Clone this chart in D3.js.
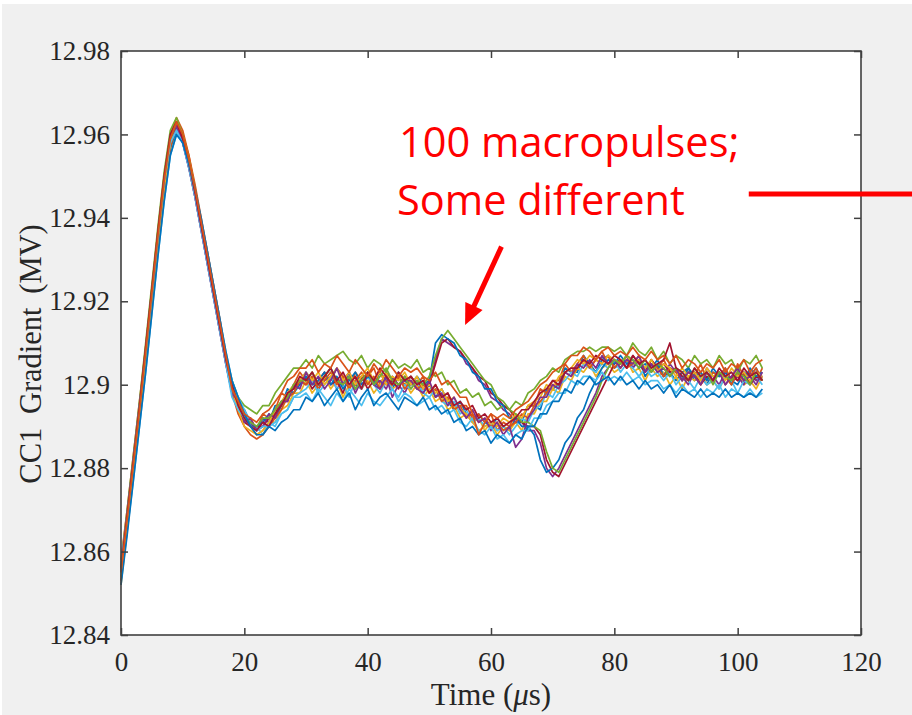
<!DOCTYPE html>
<html>
<head>
<meta charset="utf-8">
<script src="https://cdn.jsdelivr.net/npm/d3@7"></script>
<style>
  html, body { margin: 0; padding: 0; background: #f0f0f0; }
  svg { display: block; }
</style>
</head>
<body>
<svg id="chart" width="912" height="715"></svg>
<script>
// sample times (us), one reading per microsecond
const time = [0,1,2,3,4,5,6,7,8,9,10,11,12,13,14,15,16,17,18,19,20,21,22,23,24,25,26,27,28,29,30,31,32,33,34,35,36,37,38,39,40,41,42,43,44,45,46,47,48,49,50,51,52,53,54,55,56,57,58,59,60,61,62,63,64,65,66,67,68,69,70,71,72,73,74,75,76,77,78,79,80,81,82,83,84,85,86,87,88,89,90,91,92,93,94,95,96,97,98,99,100,101,102,103,104];

// gradient traces (MV), a sample of the 100 macropulses
const pulseA = [12.855,12.868,12.881,12.894,12.907,12.921,12.935,12.948,12.958,12.962,12.959,12.953,12.946,12.938,12.930,12.922,12.914,12.906,
  12.900,12.894,12.894,12.891,12.889,12.892,12.891,12.895,12.895,12.899,12.898,12.901,12.903,
  12.901,12.899,12.902,12.904,12.901,12.900,12.903,12.899,12.901,12.902,12.900,12.903,12.901,12.899,12.902,
  12.900,12.902,12.900,12.898,12.900,12.897,12.899,12.896,12.894,12.896,12.893,12.891,12.893,12.891,12.890,12.892,12.890,12.889,
  12.892,12.891,12.895,12.895,12.894,12.899,12.899,12.900,12.904,12.903,12.903,12.907,12.905,12.903,12.906,12.907,12.904,
  12.905,12.907,12.904,12.906,12.902,12.904,12.906,12.902,12.903,12.901,12.903,12.904,12.901,12.902,12.900,12.903,12.902,12.904,12.901,12.900,12.903,12.902,12.904,12.901];
const pulseB = [12.858,12.870,12.883,12.896,12.909,12.923,12.937,12.950,12.960,12.964,12.961,12.955,12.947,12.939,12.931,12.923,12.915,12.907,
  12.899,12.897,12.891,12.892,12.889,12.893,12.892,12.894,12.898,12.897,12.900,12.903,12.901,
  12.903,12.900,12.902,12.901,12.904,12.902,12.899,12.903,12.901,12.902,12.904,12.900,12.903,12.901,12.902,12.900,
  12.902,12.900,12.902,12.898,12.900,12.897,12.898,12.894,12.895,12.895,12.892,12.893,12.891,12.893,12.889,12.891,12.890,
  12.893,12.892,12.895,12.895,12.899,12.898,12.901,12.901,12.905,12.903,12.905,12.907,12.904,12.906,12.908,12.905,12.906,
  12.904,12.907,12.905,12.906,12.903,12.906,12.904,12.906,12.903,12.904,12.901,12.904,12.902,12.905,12.901,12.903,12.902,12.904,12.901,12.905,12.902,12.903,12.901,12.904];
const pulseC = [12.852,12.865,12.878,12.891,12.904,12.918,12.932,12.945,12.956,12.961,12.959,12.953,12.946,12.939,12.931,12.923,12.915,12.907,
  12.900,12.896,12.893,12.890,12.888,12.889,12.891,12.891,12.894,12.895,12.898,12.898,
  12.901,12.898,12.900,12.902,12.899,12.901,12.897,12.900,12.902,12.899,12.901,12.898,12.900,12.903,12.899,12.900,12.901,
  12.898,12.900,12.897,12.899,12.896,12.897,12.894,12.895,12.892,12.893,12.891,12.892,12.889,12.891,12.888,12.890,12.889,
  12.891,12.889,12.893,12.893,12.896,12.896,12.899,12.898,12.902,12.901,12.904,12.903,12.905,12.902,12.904,12.905,12.903,
  12.904,12.906,12.903,12.904,12.901,12.904,12.902,12.903,12.900,12.902,12.899,12.902,12.901,12.903,12.900,12.901,12.899,12.902,12.900,12.903,12.900,12.901,12.899,12.902];
const pulseD = [12.856,12.869,12.882,12.895,12.908,12.922,12.936,12.949,12.959,12.962,12.958,12.952,12.945,12.937,12.929,12.921,12.913,12.905,
  12.898,12.896,12.891,12.892,12.889,12.890,12.893,12.892,12.896,12.896,12.900,12.899,
  12.903,12.900,12.902,12.899,12.901,12.904,12.900,12.902,12.898,12.901,12.903,12.900,12.899,12.902,12.897,12.900,12.901,
  12.901,12.899,12.898,12.901,12.897,12.898,12.895,12.897,12.894,12.892,12.894,12.891,12.892,12.889,12.891,12.888,12.890,
  12.885,12.887,12.892,12.894,12.897,12.897,12.900,12.899,12.903,12.902,12.905,12.904,12.906,12.904,12.907,12.905,12.906,
  12.904,12.906,12.905,12.907,12.903,12.905,12.903,12.904,12.902,12.904,12.901,12.903,12.902,12.900,12.903,12.901,12.903,12.900,12.902,12.904,12.901,12.902,12.900,12.903];
const pulseE = [12.857,12.870,12.883,12.896,12.910,12.924,12.938,12.951,12.961,12.964,12.960,12.954,12.947,12.939,12.931,12.923,12.915,12.907,
  12.901,12.897,12.895,12.894,12.893,12.895,12.895,12.898,12.900,12.902,12.904,12.904,
  12.906,12.904,12.907,12.905,12.906,12.907,12.908,12.906,12.905,12.907,12.904,12.906,12.905,12.903,12.906,12.904,12.905,
  12.904,12.906,12.903,12.904,12.902,12.903,12.900,12.901,12.898,12.899,12.897,12.898,12.895,12.896,12.894,12.895,12.894,
  12.896,12.895,12.898,12.899,12.901,12.902,12.904,12.903,12.906,12.907,12.908,12.908,12.909,12.908,12.909,12.909,12.908,
  12.909,12.907,12.910,12.908,12.907,12.909,12.906,12.908,12.905,12.907,12.906,12.904,12.907,12.905,12.906,12.904,12.907,12.905,12.906,12.903,12.906,12.905,12.907,12.904];
const pulseF = [12.853,12.865,12.877,12.890,12.903,12.917,12.931,12.944,12.955,12.960,12.958,12.953,12.946,12.939,12.932,12.924,12.916,12.908,
  12.901,12.897,12.894,12.891,12.890,12.888,12.891,12.890,12.893,12.894,12.897,12.898,
  12.899,12.901,12.898,12.900,12.902,12.899,12.900,12.897,12.901,12.899,12.902,12.900,12.898,12.901,12.899,12.897,12.900,
  12.899,12.901,12.898,12.897,12.899,12.896,12.895,12.896,12.893,12.894,12.891,12.892,12.890,12.891,12.889,12.890,12.888,
  12.890,12.892,12.891,12.894,12.895,12.898,12.897,12.900,12.901,12.903,12.902,12.905,12.904,12.903,12.905,12.904,12.906,
  12.903,12.905,12.904,12.902,12.904,12.902,12.903,12.901,12.903,12.900,12.902,12.901,12.899,12.902,12.900,12.901,12.899,12.902,12.901,12.898,12.901,12.900,12.902,12.900];
const pulseG = [12.856,12.869,12.882,12.895,12.909,12.923,12.937,12.950,12.960,12.963,12.959,12.953,12.946,12.938,12.930,12.922,12.914,12.906,
  12.900,12.895,12.892,12.890,12.889,12.891,12.890,12.893,12.895,12.898,12.899,12.902,
  12.901,12.903,12.900,12.902,12.904,12.901,12.903,12.900,12.902,12.899,12.903,12.901,12.904,12.902,12.900,12.903,12.901,
  12.902,12.900,12.901,12.898,12.900,12.897,12.898,12.895,12.896,12.894,12.895,12.892,12.893,12.891,12.892,12.890,12.891,
  12.892,12.894,12.894,12.896,12.898,12.899,12.901,12.900,12.903,12.904,12.904,12.906,12.905,12.907,12.906,12.905,12.907,
  12.906,12.904,12.907,12.905,12.906,12.904,12.905,12.906,12.910,12.904,12.903,12.901,12.904,12.902,12.903,12.901,12.904,12.902,12.903,12.901,12.904,12.902,12.903,12.901];
const pulseH = [12.852,12.864,12.877,12.890,12.903,12.917,12.931,12.944,12.955,12.960,12.958,12.953,12.947,12.940,12.932,12.924,12.916,12.908,
  12.901,12.897,12.893,12.890,12.888,12.888,12.890,12.889,12.891,12.892,12.894,12.894,
  12.897,12.896,12.898,12.895,12.897,12.899,12.896,12.898,12.894,12.897,12.899,12.895,12.897,12.898,12.896,12.894,12.897,
  12.896,12.895,12.897,12.894,12.895,12.893,12.894,12.891,12.892,12.889,12.890,12.888,12.889,12.886,12.888,12.887,12.886,
  12.888,12.887,12.890,12.890,12.893,12.893,12.896,12.896,12.899,12.898,12.901,12.900,12.902,12.900,12.901,12.902,12.900,
  12.902,12.900,12.901,12.899,12.901,12.899,12.900,12.898,12.900,12.897,12.899,12.898,12.897,12.899,12.897,12.898,12.897,12.899,12.897,12.898,12.897,12.898,12.897,12.899];
const pulseI = [12.853,12.866,12.879,12.892,12.905,12.919,12.933,12.946,12.957,12.962,12.960,12.955,12.948,12.940,12.932,12.924,12.916,12.907,
  12.898,12.893,12.890,12.888,12.887,12.888,12.890,12.892,12.894,12.897,12.898,12.901,
  12.900,12.902,12.899,12.901,12.903,12.900,12.902,12.899,12.901,12.903,12.900,12.902,12.899,12.901,12.900,12.902,12.899,
  12.901,12.899,12.900,12.898,12.899,12.896,12.897,12.894,12.895,12.892,12.893,12.891,12.892,12.890,12.891,12.889,12.890,
  12.891,12.893,12.892,12.895,12.896,12.898,12.900,12.900,12.903,12.902,12.904,12.906,12.904,12.906,12.905,12.907,12.904,
  12.906,12.904,12.905,12.907,12.903,12.905,12.904,12.902,12.904,12.903,12.901,12.903,12.902,12.900,12.903,12.901,12.903,12.902,12.900,12.903,12.901,12.902,12.904,12.901];
const pulseJ = [12.854,12.867,12.880,12.893,12.906,12.920,12.934,12.947,12.958,12.963,12.960,12.954,12.947,12.939,12.931,12.923,12.915,12.907,
  12.899,12.894,12.890,12.889,12.888,12.889,12.891,12.894,12.896,12.898,12.900,12.901,
  12.903,12.901,12.903,12.900,12.902,12.904,12.901,12.903,12.900,12.902,12.904,12.901,12.903,12.900,12.902,12.901,12.903,
  12.900,12.902,12.899,12.900,12.898,12.899,12.896,12.897,12.894,12.893,12.891,12.889,12.890,12.891,12.890,12.892,12.891,
  12.893,12.892,12.895,12.896,12.897,12.900,12.899,12.902,12.903,12.904,12.906,12.905,12.907,12.906,12.905,12.907,12.906,
  12.905,12.907,12.905,12.906,12.904,12.906,12.903,12.905,12.904,12.902,12.904,12.902,12.903,12.901,12.904,12.902,12.903,12.901,12.904,12.902,12.903,12.901,12.903,12.902];
const pulseK = [12.857,12.869,12.882,12.895,12.908,12.922,12.936,12.949,12.958,12.961,12.958,12.952,12.945,12.937,12.929,12.921,12.913,12.905,
  12.897,12.894,12.892,12.890,12.889,12.890,12.890,12.891,12.893,12.894,12.897,12.897,
  12.898,12.896,12.899,12.897,12.895,12.898,12.896,12.899,12.897,12.895,12.898,12.896,12.895,12.897,12.899,12.896,12.898,
  12.897,12.895,12.896,12.897,12.894,12.895,12.893,12.894,12.891,12.890,12.892,12.889,12.888,12.890,12.887,12.888,12.886,
  12.888,12.889,12.889,12.892,12.892,12.895,12.896,12.898,12.898,12.901,12.900,12.902,12.902,12.901,12.903,12.901,12.902,
  12.901,12.903,12.901,12.902,12.900,12.901,12.901,12.899,12.900,12.898,12.900,12.898,12.899,12.897,12.899,12.898,12.900,12.897,12.899,12.898,12.897,12.899,12.897,12.898];
const pulseL = [12.855,12.868,12.881,12.894,12.908,12.922,12.936,12.949,12.959,12.963,12.960,12.954,12.947,12.939,12.931,12.923,12.915,12.907,
  12.899,12.896,12.893,12.892,12.891,12.893,12.894,12.896,12.898,12.901,12.902,12.904,
  12.904,12.906,12.903,12.905,12.904,12.907,12.905,12.903,12.906,12.904,12.902,12.905,12.903,12.906,12.904,12.902,12.904,
  12.903,12.904,12.902,12.901,12.903,12.900,12.901,12.899,12.897,12.897,12.893,12.888,12.891,12.893,12.892,12.893,12.892,
  12.894,12.895,12.896,12.898,12.900,12.901,12.903,12.904,12.905,12.907,12.907,12.909,12.908,12.906,12.908,12.909,12.907,
  12.908,12.907,12.909,12.907,12.906,12.908,12.906,12.907,12.905,12.907,12.904,12.906,12.905,12.903,12.905,12.904,12.906,12.903,12.905,12.904,12.906,12.903,12.905,12.906];
// the few "different" macropulses
const oddA = [12.854,12.866,12.879,12.892,12.905,12.919,12.933,12.946,12.957,12.961,12.959,12.954,12.947,12.939,12.931,12.923,12.915,12.907,
  12.900,12.895,12.893,12.890,12.890,12.891,12.893,12.892,12.895,12.897,12.898,12.900,
  12.902,12.900,12.901,12.903,12.900,12.902,12.899,12.901,12.903,12.900,12.902,12.901,12.899,12.902,12.900,12.903,12.901,12.900,12.902,12.900,
  12.901,12.910,12.912,12.911,12.910,12.907,12.906,12.903,12.902,12.899,12.899,12.896,12.895,12.892,12.892,12.890,12.890,
  12.888,12.882,12.879,12.880,12.882,12.886,12.888,12.892,12.894,12.898,12.901,12.904,12.906,12.905,
  12.907,12.905,12.906,12.904,12.905,12.903,12.905,12.902,12.904,12.903,12.901,12.904,12.902,12.903,12.901,12.904,12.902,12.903,12.900,12.903,12.901,12.904,12.902,12.903];
const oddB = [12.856,12.868,12.881,12.894,12.907,12.921,12.935,12.948,12.958,12.962,12.958,12.952,12.945,12.937,12.929,12.921,12.913,12.905,
  12.898,12.894,12.891,12.891,12.889,12.892,12.891,12.894,12.895,12.898,12.899,12.901,
  12.900,12.902,12.899,12.901,12.902,12.899,12.901,12.903,12.900,12.899,12.902,12.900,12.901,12.899,12.902,12.900,12.898,12.901,12.899,12.900,
  12.900,12.906,12.911,12.910,12.909,12.908,12.905,12.904,12.901,12.900,12.897,12.896,12.894,12.893,12.891,12.891,12.889,
  12.889,12.886,12.880,12.878,12.880,12.883,12.886,12.889,12.892,12.895,12.898,12.902,12.904,12.906,
  12.905,12.907,12.904,12.906,12.903,12.905,12.904,12.902,12.905,12.903,12.902,12.900,12.903,12.901,12.904,12.902,12.900,12.903,12.901,12.902,12.900,12.903,12.901,12.902];
const oddC = [12.855,12.867,12.880,12.893,12.906,12.920,12.934,12.947,12.957,12.962,12.959,12.953,12.946,12.938,12.930,12.922,12.914,12.906,
  12.899,12.895,12.891,12.890,12.890,12.890,12.892,12.893,12.896,12.896,12.900,12.900,
  12.902,12.899,12.901,12.903,12.900,12.901,12.898,12.902,12.900,12.902,12.899,12.901,12.903,12.900,12.901,12.899,12.902,12.900,12.901,12.899,
  12.900,12.905,12.910,12.911,12.909,12.908,12.906,12.904,12.902,12.901,12.898,12.897,12.895,12.894,12.892,12.891,12.890,
  12.890,12.888,12.882,12.879,12.878,12.881,12.884,12.887,12.890,12.893,12.896,12.899,12.902,12.905,
  12.906,12.904,12.907,12.905,12.903,12.906,12.904,12.905,12.903,12.904,12.902,12.901,12.903,12.900,12.902,12.901,12.903,12.900,12.902,12.901,12.903,12.900,12.902,12.901];
const oddD = [12.856,12.869,12.882,12.895,12.908,12.922,12.936,12.949,12.959,12.963,12.960,12.954,12.947,12.939,12.931,12.923,12.915,12.907,
  12.899,12.896,12.892,12.891,12.890,12.892,12.892,12.894,12.896,12.897,12.900,12.901,
  12.901,12.903,12.900,12.902,12.904,12.901,12.900,12.902,12.899,12.901,12.903,12.900,12.902,12.904,12.901,12.900,12.902,12.899,12.901,12.900,
  12.902,12.907,12.911,12.913,12.911,12.909,12.907,12.905,12.903,12.901,12.900,12.897,12.896,12.894,12.893,12.891,12.891,
  12.890,12.889,12.884,12.880,12.879,12.882,12.885,12.888,12.891,12.894,12.897,12.901,12.904,12.906,
  12.905,12.907,12.906,12.904,12.906,12.903,12.905,12.904,12.902,12.904,12.903,12.901,12.904,12.902,12.903,12.900,12.903,12.902,12.901,12.903,12.902,12.900,12.903,12.901];

// drawing order follows the MATLAB colour order
const traces = [pulseA, pulseB, pulseC, oddB, pulseE, pulseF, oddC, oddA, pulseI, pulseJ, pulseD, oddD, pulseK, pulseG, pulseH, pulseL];
const lineColors = ['#0072BD', '#D95319', '#EDB120', '#7E2F8E', '#77AC30', '#4DBEEE', '#A2142F'];

const xTicks = [0, 20, 40, 60, 80, 100, 120];
const yTicks = [12.84, 12.86, 12.88, 12.9, 12.92, 12.94, 12.96, 12.98];
const yTickLabels = ['12.84', '12.86', '12.88', '12.9', '12.92', '12.94', '12.96', '12.98'];
const noteText = ['100 macropulses;', 'Some different'];

const width = 912;
const height = 715;
const plot = { left: 121, top: 51, right: 861, bottom: 635 };

const svg = d3.select('#chart');

// figure background with thin white edge like the screenshot
svg.append('rect').attr('width', width).attr('height', height).attr('fill', '#f0f0f0');
svg.append('rect').attr('width', width).attr('height', 4).attr('fill', '#ffffff');
svg.append('rect').attr('width', 2).attr('height', height).attr('fill', '#ffffff');

const xScale = d3.scaleLinear().domain([0, 120]).range([plot.left, plot.right]);
const yScale = d3.scaleLinear().domain([12.84, 12.98]).range([plot.bottom, plot.top]);

svg.append('rect')
  .attr('x', plot.left).attr('y', plot.top)
  .attr('width', plot.right - plot.left).attr('height', plot.bottom - plot.top)
  .attr('fill', '#ffffff');

const line = d3.line()
  .x((d, i) => xScale(time[i]))
  .y(d => yScale(d));

svg.append('g')
  .selectAll('path')
  .data(traces)
  .join('path')
  .attr('d', d => line(d))
  .attr('fill', 'none')
  .attr('stroke', (d, i) => lineColors[i % lineColors.length])
  .attr('stroke-width', 1.7)
  .attr('stroke-linejoin', 'round');

// axes (inward ticks, box on all sides)
const axisFont = "'Liberation Serif', 'Times New Roman', serif";
const axisColor = '#404040';

const xAxis = d3.axisBottom(xScale).tickValues(xTicks).tickSizeInner(-7).tickSizeOuter(0).tickPadding(17);
const yAxis = d3.axisLeft(yScale).tickValues(yTicks).tickSizeInner(-7).tickSizeOuter(0).tickPadding(11)
  .tickFormat((d, i) => yTickLabels[i]);

const gx = svg.append('g').attr('transform', `translate(0,${plot.bottom})`).call(xAxis);
const gy = svg.append('g').attr('transform', `translate(${plot.left},0)`).call(yAxis);
const gxTop = svg.append('g').attr('transform', `translate(0,${plot.top})`)
  .call(d3.axisTop(xScale).tickValues(xTicks).tickSizeInner(-7).tickSizeOuter(0).tickFormat(''));
const gyRight = svg.append('g').attr('transform', `translate(${plot.right},0)`)
  .call(d3.axisRight(yScale).tickValues(yTicks).tickSizeInner(-7).tickSizeOuter(0).tickFormat(''));

[gx, gy, gxTop, gyRight].forEach(g => {
  g.select('.domain').remove();
  g.selectAll('.tick line').attr('stroke', axisColor).attr('stroke-width', 1.5);
  g.selectAll('.tick text')
    .attr('fill', '#262626')
    .style('font-family', axisFont)
    .style('font-size', '27px');
});

svg.append('rect')
  .attr('x', plot.left).attr('y', plot.top)
  .attr('width', plot.right - plot.left).attr('height', plot.bottom - plot.top)
  .attr('fill', 'none')
  .attr('stroke', axisColor)
  .attr('stroke-width', 1.6);

// axis titles
const xTitle = svg.append('text')
  .attr('x', (plot.left + plot.right) / 2)
  .attr('y', 705)
  .attr('text-anchor', 'middle')
  .attr('fill', '#262626')
  .style('font-family', axisFont)
  .style('font-size', '31px');
xTitle.append('tspan').text('Time (');
xTitle.append('tspan').style('font-style', 'italic').text('\u03bc');
xTitle.append('tspan').text('s)');

svg.append('text')
  .attr('transform', 'translate(41,354) rotate(-90)')
  .attr('text-anchor', 'middle')
  .attr('fill', '#262626')
  .style('font-family', axisFont)
  .style('font-size', '30.5px')
  .style('word-spacing', '6px')
  .text('CC1 Gradient (MV)');

// red annotation
const red = '#ff0000';
const note = svg.append('text')
  .attr('fill', red)
  .style('font-family', "'Open Sans', sans-serif")
  .style('font-size', '41.5px');
note.selectAll('tspan')
  .data(noteText)
  .join('tspan')
  .attr('x', (d, i) => i === 0 ? 399 : 397)
  .attr('y', (d, i) => 157 + i * 58)
  .text(d => d);

const ruleT = [101.8, 130];
const ruleV = 12.9457;
svg.append('line')
  .attr('x1', xScale(ruleT[0])).attr('x2', xScale(ruleT[1]))
  .attr('y1', yScale(ruleV)).attr('y2', yScale(ruleV))
  .attr('stroke', red).attr('stroke-width', 5);

// arrow pointing at the odd pulses
const arrowFrom = [61.7, 12.9331];
const arrowTo = [55.8, 12.9143];
const sx = xScale(arrowFrom[0]), sy = yScale(arrowFrom[1]);
const tx = xScale(arrowTo[0]), ty = yScale(arrowTo[1]);
const len = Math.hypot(tx - sx, ty - sy);
const ux = (tx - sx) / len, uy = (ty - sy) / len;
const headLen = 21, headHalf = 9.5;
const bx = tx - ux * headLen, by = ty - uy * headLen;
svg.append('line')
  .attr('x1', sx).attr('y1', sy).attr('x2', bx + ux * 2).attr('y2', by + uy * 2)
  .attr('stroke', red).attr('stroke-width', 5);
svg.append('path')
  .attr('d', `M${tx},${ty}L${bx - uy * headHalf},${by + ux * headHalf}L${bx + uy * headHalf},${by - ux * headHalf}Z`)
  .attr('fill', red);
</script>
</body>
</html>
